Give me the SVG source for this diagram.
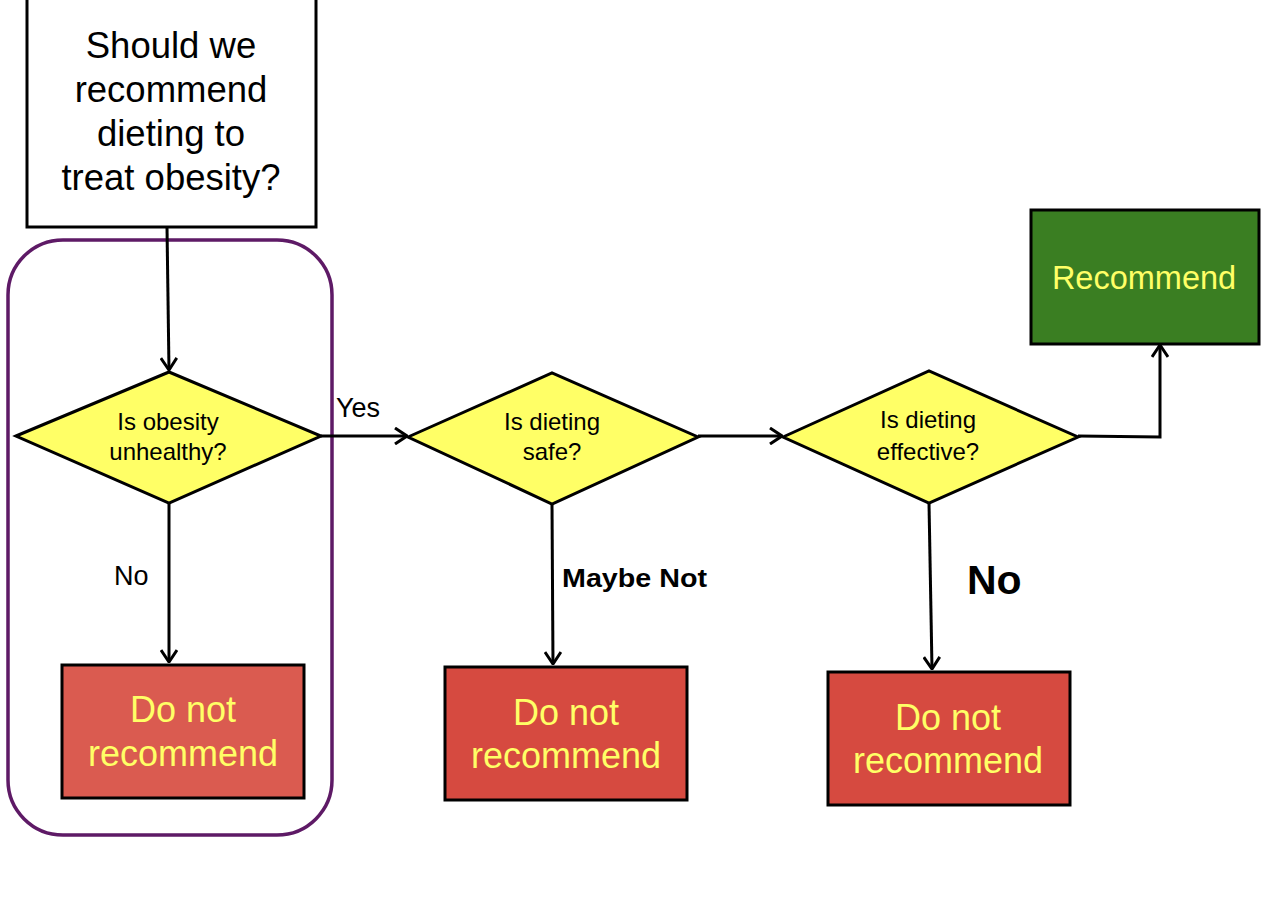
<svg xmlns="http://www.w3.org/2000/svg" width="1274" height="908" viewBox="0 0 1274 908">
<style>
text{font-family:"Liberation Sans",Arial,sans-serif;text-anchor:middle}
.box{stroke:#000;stroke-width:3}
.dia{fill:#ffff66;stroke:#000;stroke-width:3}
.q{font-size:24px;fill:#000}
.out{font-size:36px;fill:#ffff66}
.conn{fill:none;stroke:#000;stroke-width:3}
.lbl{fill:#000;text-anchor:start}
</style>
<defs>
<marker id="arr" viewBox="0 0 14 18" refX="13" refY="9" markerWidth="14" markerHeight="18" markerUnits="userSpaceOnUse" orient="auto">
<path d="M1,1 L13,9 L1,17" fill="none" stroke="#000" stroke-width="3"/>
</marker>
</defs>
<rect width="1274" height="908" fill="#fff"/>
<g id="group-frame">
<rect x="8" y="240" width="324" height="595" rx="55" ry="55" fill="none" stroke="#5e1a66" stroke-width="3.5"/>
</g>
<g id="start">
<rect class="box" x="27" y="-5" width="289" height="232" fill="#fff"/>
<text x="171" y="58" font-size="36.5">Should we</text>
<text x="171" y="102" font-size="36.5">recommend</text>
<text x="171" y="146" font-size="36.5">dieting to</text>
<text x="171" y="190" font-size="36.5">treat obesity?</text>
</g>
<g id="q1">
<polygon class="dia" points="16,436 169,372 321,436 169,503"/>
<text class="q" x="168" y="430">Is obesity</text>
<text class="q" x="168" y="460">unhealthy?</text>
</g>
<g id="q2">
<polygon class="dia" points="408,437 552,373 698,437 552,504"/>
<text class="q" x="552" y="430">Is dieting</text>
<text class="q" x="552" y="460">safe?</text>
</g>
<g id="q3">
<polygon class="dia" points="783,437 929,371 1078,437 929,503"/>
<text class="q" x="928" y="428">Is dieting</text>
<text class="q" x="928" y="460">effective?</text>
</g>
<g id="recommend">
<rect class="box" x="1031" y="210" width="228" height="134" fill="#3a7e22"/>
<text x="1144" y="289" font-size="32.5" fill="#ffff66">Recommend</text>
</g>
<g id="no1">
<rect class="box" x="62" y="665" width="242" height="133" fill="#da5b50"/>
<text class="out" x="183" y="722">Do not</text>
<text class="out" x="183" y="766">recommend</text>
</g>
<g id="no2">
<rect class="box" x="445" y="667" width="242" height="133" fill="#d64a40"/>
<text class="out" x="566" y="725">Do not</text>
<text class="out" x="566" y="768">recommend</text>
</g>
<g id="no3">
<rect class="box" x="828" y="672" width="242" height="133" fill="#d64a40"/>
<text class="out" x="948" y="730">Do not</text>
<text class="out" x="948" y="773">recommend</text>
</g>
<g id="connectors">
<path class="conn" d="M167,227 L169,370" marker-end="url(#arr)"/>
<path class="conn" d="M169,503 L169,662" marker-end="url(#arr)"/>
<path class="conn" d="M321,436 L407,436" marker-end="url(#arr)"/>
<path class="conn" d="M552,504 L553,664" marker-end="url(#arr)"/>
<path class="conn" d="M698,436 L782,436" marker-end="url(#arr)"/>
<path class="conn" d="M929,503 L932,669" marker-end="url(#arr)"/>
<path class="conn" d="M1078,436 L1160,437 L1160,345" marker-end="url(#arr)"/>
<text class="lbl" x="336" y="417" font-size="27">Yes</text>
<text class="lbl" x="114" y="585" font-size="27">No</text>
<text class="lbl" x="562" y="587" font-size="25" font-weight="bold" textLength="145" lengthAdjust="spacingAndGlyphs">Maybe Not</text>
<text class="lbl" x="967" y="594" font-size="41" font-weight="bold">No</text>
</g>
</svg>
